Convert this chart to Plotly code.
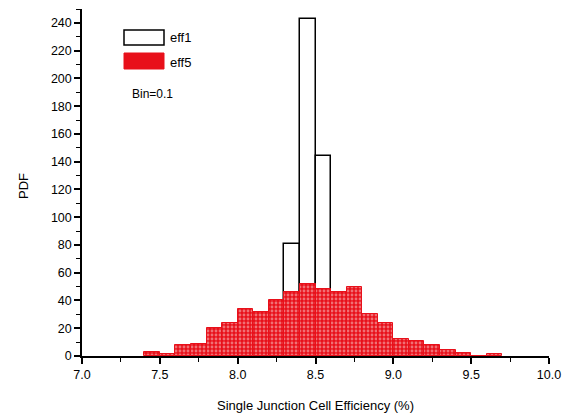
import plotly.graph_objects as go

# Data
eff1_centers = [8.35, 8.45, 8.55]
eff1_pdf = [81, 243, 144]

eff5_centers = [7.45, 7.55, 7.65, 7.75, 7.85, 7.95, 8.05, 8.15, 8.25, 8.35, 8.45,
                8.55, 8.65, 8.75, 8.85, 8.95, 9.05, 9.15, 9.25, 9.35, 9.45, 9.55, 9.65]
eff5_pdf = [3, 1.5, 8, 9, 20, 24, 34, 32, 40, 46, 52,
            48, 46, 50, 30, 24, 12, 11, 8, 4, 2, 0, 1.5]
bin_width = 0.1

x_ticks = [7.0, 7.5, 8.0, 8.5, 9.0, 9.5, 10.0]
x_ticklabels = ["7.0", "7.5", "8.0", "8.5", "9.0", "9.5", "10.0"]
y_ticks = list(range(0, 241, 20))

RED = "#e8101a"
FONT = "Liberation Sans, Arial, sans-serif"

L, R, T, B = 82, 17, 9, 63
W, H = 566, 419
PW, PH = W - L - R, H - T - B


def px(x):
    return (x - L) / PW


def py(y):
    return (H - B - y) / PH


fig = go.Figure()
fig.add_trace(go.Bar(
    x=eff1_centers, y=eff1_pdf, width=[bin_width] * len(eff1_centers),
    name="eff1", showlegend=False,
    marker=dict(color="white", line=dict(color="black", width=1.5)),
))
fig.add_trace(go.Bar(
    x=eff5_centers, y=eff5_pdf, width=[bin_width] * len(eff5_centers),
    name="eff5", showlegend=False,
    marker=dict(color=RED, line=dict(color=RED, width=1),
                pattern=dict(shape=".", fgcolor="#f8d0d0", bgcolor=RED,
                             size=4, solidity=0.4)),
))

# Custom legend (wide swatches as in the reference)
fig.add_shape(type="rect", xref="paper", yref="paper",
              x0=px(124), x1=px(164), y0=py(45), y1=py(30),
              line=dict(color="black", width=1.5), fillcolor="white")
fig.add_shape(type="rect", xref="paper", yref="paper",
              x0=px(124), x1=px(164), y0=py(69), y1=py(53),
              line=dict(color=RED, width=1), fillcolor=RED)
fig.add_annotation(text="eff1", xref="paper", yref="paper",
                   x=px(168), y=py(37.5),
                   xanchor="left", yanchor="middle", showarrow=False,
                   font=dict(family=FONT, size=13, color="black"))
fig.add_annotation(text="eff5", xref="paper", yref="paper",
                   x=px(168), y=py(62),
                   xanchor="left", yanchor="middle", showarrow=False,
                   font=dict(family=FONT, size=13, color="black"))
fig.add_annotation(text="Bin=0.1", xref="paper", yref="paper",
                   x=px(130), y=py(94),
                   xanchor="left", yanchor="middle", showarrow=False,
                   font=dict(family=FONT, size=12, color="black"))

# Axis titles
fig.add_annotation(text="Single Junction Cell Efficiency (%)", xref="paper", yref="paper",
                   x=px(315), y=py(405), xanchor="center", yanchor="middle",
                   showarrow=False, font=dict(family=FONT, size=13, color="black"))
fig.add_annotation(text="PDF", xref="paper", yref="paper",
                   x=px(23), y=py(186), xanchor="center", yanchor="middle",
                   textangle=-90, showarrow=False,
                   font=dict(family=FONT, size=13, color="black"))

fig.update_layout(
    width=W, height=H,
    margin=dict(l=L, r=R, t=T, b=B, autoexpand=False),
    paper_bgcolor="white", plot_bgcolor="white",
    barmode="overlay", bargap=0,
    font=dict(family=FONT, size=12, color="black"),
    showlegend=False,
)
fig.update_xaxes(
    range=[7.0, 10.0], tickvals=x_ticks, ticktext=x_ticklabels,
    showline=True, linecolor="black", linewidth=1.5,
    ticks="outside", ticklen=6, tickwidth=1.5, tickcolor="black",
    minor=dict(dtick=0.25, tick0=7.0, ticks="outside", ticklen=4, tickcolor="black", tickwidth=1),
    showgrid=False, zeroline=False, automargin=False,
    tickfont=dict(family=FONT, size=12.5),
)
fig.update_yaxes(
    range=[0, 250], tickvals=y_ticks,
    showline=True, linecolor="black", linewidth=1.5,
    ticks="outside", ticklen=6, tickwidth=1.5, tickcolor="black",
    minor=dict(dtick=10, tick0=0, ticks="outside", ticklen=4, tickcolor="black", tickwidth=1),
    showgrid=False, zeroline=False, automargin=False,
    tickfont=dict(family=FONT, size=12.5),
)

fig.write_html("out.html", config={"displayModeBar": False},
               post_script="document.body.style.margin='0';document.body.style.padding='0';")
